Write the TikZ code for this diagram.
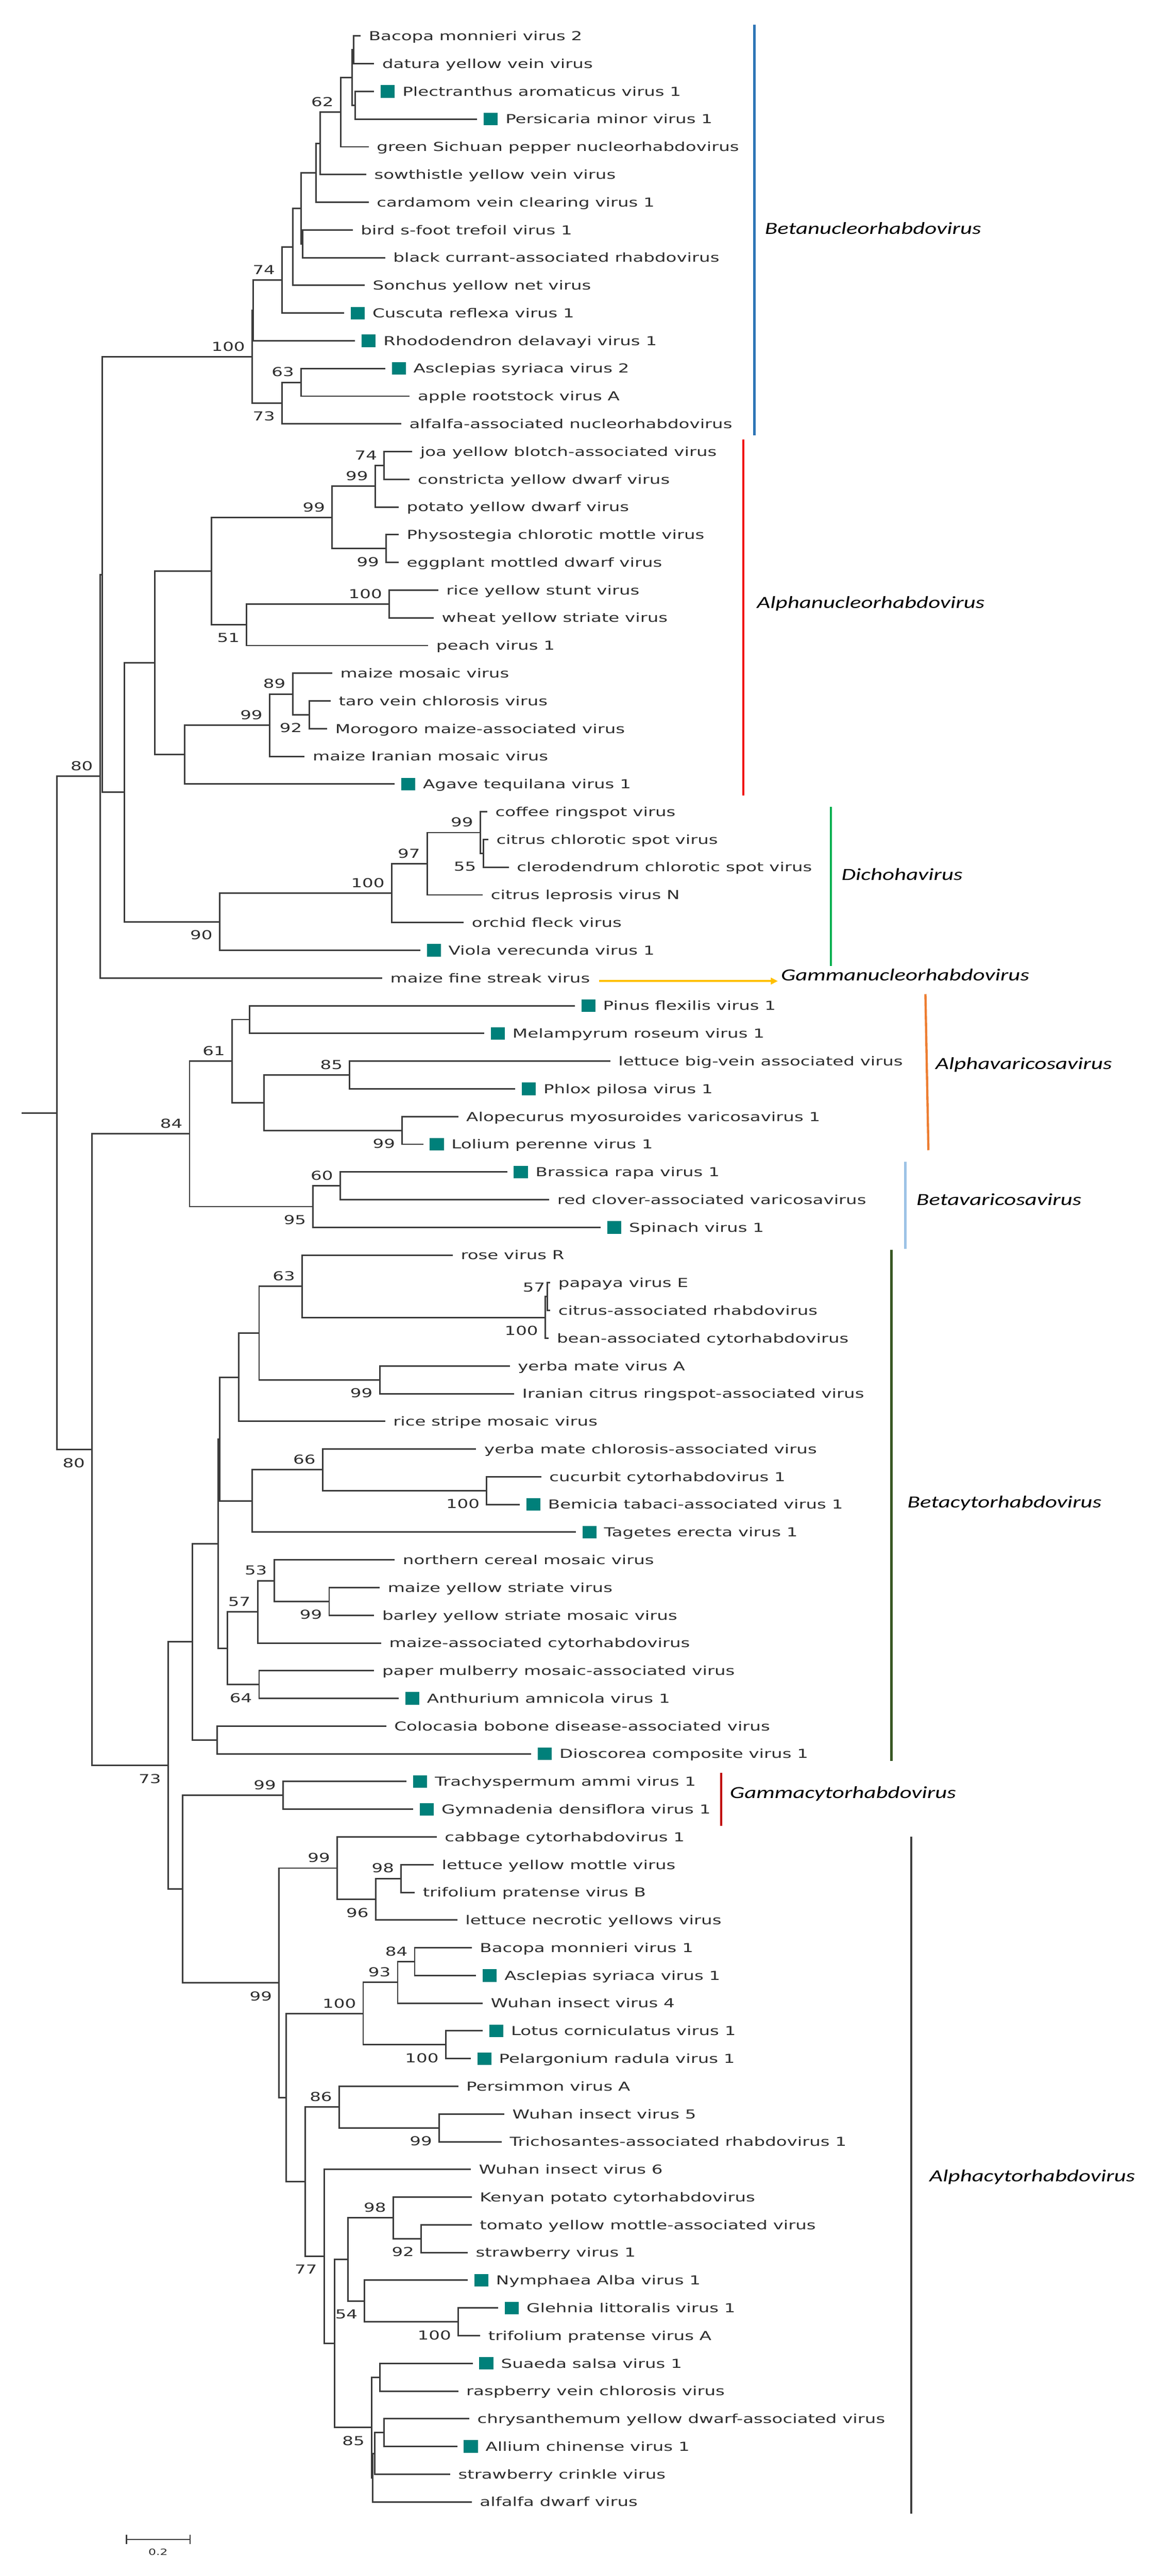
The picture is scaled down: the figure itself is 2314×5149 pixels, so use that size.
\documentclass[tikz,border=0pt]{standalone}
\usepackage{fontspec}
\usetikzlibrary{arrows.meta}
\newfontfamily\leaffam[FakeStretch=1.42]{DejaVu Sans}
\newfontfamily\genusfam[FakeStretch=1.36]{Carlito}
\definecolor{tealbox}{RGB}{0,128,122}
\definecolor{brc}{RGB}{60,60,60}
\definecolor{txt}{RGB}{45,45,45}
\definecolor{cbeta}{RGB}{46,117,182}
\definecolor{calpha}{RGB}{240,0,0}
\definecolor{cdicho}{RGB}{0,176,80}
\definecolor{cgold}{RGB}{255,192,0}
\definecolor{corange}{RGB}{237,125,49}
\definecolor{clblue}{RGB}{157,195,230}
\definecolor{cdgreen}{RGB}{56,87,35}
\definecolor{cdred}{RGB}{192,0,0}
\definecolor{cgray}{RGB}{64,64,64}
\tikzset{
  leaflab/.style={anchor=base west, inner sep=0pt, font=\leaffam\fontsize{24.7}{30}\selectfont, text=txt},
  bs/.style={inner sep=0pt, font=\leaffam\fontsize{24.7}{30}\selectfont, text=txt},
  gbox/.style={anchor=west, fill=tealbox, minimum width=28pt, minimum height=25pt, inner sep=0pt},
  br/.style={draw=brc, line width=3pt},
  genus/.style={anchor=west, inner sep=0pt, text height=0.72em, text depth=0.22em, font=\genusfam\itshape\fontsize{34}{40}\selectfont, text=black},
  gbar/.style={line width=4.5pt}
}
\newcommand\leafA[4]{%
  \coordinate (#1) at (#3,{16.62+55.38*#2});
  \node[leaflab] (t#1) at ([xshift=16pt,yshift=-9pt]#1) {#4};}
\newcommand\leafB[4]{%
  \coordinate (#1) at (#3,{16.62+55.38*#2});
  \node[gbox] (b#1) at ([xshift=13pt]#1) {};
  \node[leaflab] (t#1) at ([xshift=15pt,yshift=-9pt]b#1.east) {#4};}
\newcommand\inode[3]{\coordinate (#1) at (#2,{16.62+55.38*#3});}
\newcommand\edges[2]{\foreach \cc in {#2}{\draw[br] (#1) |- (\cc);}}
\newcommand\bsup[2]{\node[bs,anchor=south east] (bs#1) at ([xshift=-14pt,yshift=11pt]#1) {#2};}
\newcommand\bsdn[2]{\node[bs,anchor=north east] (bs#1) at ([xshift=-14pt,yshift=-17pt]#1) {#2};}
\begin{document}
\begin{tikzpicture}[x=1pt,y=-1pt]
\fill[white] (0,0) rectangle (2314,5149);
\useasboundingbox (0,0) rectangle (2314,5149);
% ---------------- leaves ----------------
\leafA{l1}{1}{721}{Bacopa monnieri virus 2}
\leafA{l2}{2}{748}{datura yellow vein virus}
\leafB{l3}{3}{748}{Plectranthus aromaticus virus 1}
\leafB{l4}{4}{954}{Persicaria minor virus 1}
\leafA{l5}{5}{737}{green Sichuan pepper nucleorhabdovirus}
\leafA{l6}{6}{732}{sowthistle yellow vein virus}
\leafA{l7}{7}{737}{cardamom vein clearing virus 1}
\leafA{l8}{8}{705}{bird s-foot trefoil virus 1}
\leafA{l9}{9}{770}{black currant-associated rhabdovirus}
\leafA{l10}{10}{729}{Sonchus yellow net virus}
\leafB{l11}{11}{688}{Cuscuta reflexa virus 1}
\leafB{l12}{12}{710}{Rhododendron delavayi virus 1}
\leafB{l13}{13}{770}{Asclepias syriaca virus 2}
\leafA{l14}{14}{819}{apple rootstock virus A}
\leafA{l15}{15}{802}{alfalfa-associated nucleorhabdovirus}
\leafA{l16}{16}{824}{joa yellow blotch-associated virus}
\leafA{l17}{17}{819}{constricta yellow dwarf virus}
\leafA{l18}{18}{797}{potato yellow dwarf virus}
\leafA{l19}{19}{797}{Physostegia chlorotic mottle virus}
\leafA{l20}{20}{797}{eggplant mottled dwarf virus}
\leafA{l21}{21}{876}{rice yellow stunt virus}
\leafA{l22}{22}{867}{wheat yellow striate virus}
\leafA{l23}{23}{856}{peach virus 1}
\leafA{l24}{24}{664}{maize mosaic virus}
\leafA{l25}{25}{661}{taro vein chlorosis virus}
\leafA{l26}{26}{654}{Morogoro maize-associated virus}
\leafA{l27}{27}{609}{maize Iranian mosaic virus}
\leafB{l28}{28}{789}{Agave tequilana virus 1}
\leafA{l29}{29}{974}{coffee ringspot virus}
\leafA{l30}{30}{976}{citrus chlorotic spot virus}
\leafA{l31}{31}{1017}{clerodendrum chlorotic spot virus}
\leafA{l32}{32}{965}{citrus leprosis virus N}
\leafA{l33}{33}{927}{orchid fleck virus}
\leafB{l34}{34}{840}{Viola verecunda virus 1}
\leafA{l35}{35}{764}{maize fine streak virus}
\leafB{l36}{36}{1149}{Pinus flexilis virus 1}
\leafB{l37}{37}{968}{Melampyrum roseum virus 1}
\leafA{l38}{38}{1220}{lettuce big-vein associated virus}
\leafB{l39}{39}{1030}{Phlox pilosa virus 1}
\leafA{l40}{40}{916}{Alopecurus myosuroides varicosavirus 1}
\leafB{l41}{41}{846}{Lolium perenne virus 1}
\leafB{l42}{42}{1014}{Brassica rapa virus 1}
\leafA{l43}{43}{1098}{red clover-associated varicosavirus}
\leafB{l44}{44}{1201}{Spinach virus 1}
\leafA{l45}{45}{905}{rose virus R}
\leafA{l46}{46}{1100}{papaya virus E}
\leafA{l47}{47}{1100}{citrus-associated rhabdovirus}
\leafA{l48}{48}{1097}{bean-associated cytorhabdovirus}
\leafA{l49}{49}{1019}{yerba mate virus A}
\leafA{l50}{50}{1028}{Iranian citrus ringspot-associated virus}
\leafA{l51}{51}{770}{rice stripe mosaic virus}
\leafA{l52}{52}{952}{yerba mate chlorosis-associated virus}
\leafA{l53}{53}{1082}{cucurbit cytorhabdovirus 1}
\leafB{l54}{54}{1039}{Bemicia tabaci-associated virus 1}
\leafB{l55}{55}{1151}{Tagetes erecta virus 1}
\leafA{l56}{56}{789}{northern cereal mosaic virus}
\leafA{l57}{57}{759}{maize yellow striate virus}
\leafA{l58}{58}{748}{barley yellow striate mosaic virus}
\leafA{l59}{59}{762}{maize-associated cytorhabdovirus}
\leafA{l60}{60}{748}{paper mulberry mosaic-associated virus}
\leafB{l61}{61}{797}{Anthurium amnicola virus 1}
\leafA{l62}{62}{772}{Colocasia bobone disease-associated virus}
\leafB{l63}{63}{1062}{Dioscorea composite virus 1}
\leafB{l64}{64}{813}{Trachyspermum ammi virus 1}
\leafB{l65}{65}{826}{Gymnadenia densiflora virus 1}
\leafA{l66}{66}{873}{cabbage cytorhabdovirus 1}
\leafA{l67}{67}{867}{lettuce yellow mottle virus}
\leafA{l68}{68}{829}{trifolium pratense virus B}
\leafA{l69}{69}{914}{lettuce necrotic yellows virus}
\leafA{l70}{70}{943}{Bacopa monnieri virus 1}
\leafB{l71}{71}{952}{Asclepias syriaca virus 1}
\leafA{l72}{72}{965}{Wuhan insect virus 4}
\leafB{l73}{73}{965}{Lotus corniculatus virus 1}
\leafB{l74}{74}{941}{Pelargonium radula virus 1}
\leafA{l75}{75}{916}{Persimmon virus A}
\leafA{l76}{76}{1008}{Wuhan insect virus 5}
\leafA{l77}{77}{1003}{Trichosantes-associated rhabdovirus 1}
\leafA{l78}{78}{941}{Wuhan insect virus 6}
\leafA{l79}{79}{943}{Kenyan potato cytorhabdovirus}
\leafA{l80}{80}{943}{tomato yellow mottle-associated virus}
\leafA{l81}{81}{935}{strawberry virus 1}
\leafB{l82}{82}{935}{Nymphaea Alba virus 1}
\leafB{l83}{83}{996}{Glehnia littoralis virus 1}
\leafA{l84}{84}{960}{trifolium pratense virus A}
\leafB{l85}{85}{945}{Suaeda salsa virus 1}
\leafA{l86}{86}{916}{raspberry vein chlorosis virus}
\leafA{l87}{87}{938}{chrysanthemum yellow dwarf-associated virus}
\leafB{l88}{88}{914}{Allium chinense virus 1}
\leafA{l89}{89}{900}{strawberry crinkle virus}
\leafA{l90}{90}{943}{alfalfa dwarf virus}
% ---------------- internal nodes ----------------
\inode{na}{707}{1.5}
\inode{nb}{710}{3.5}
\inode{nc}{704}{2.5}
\inode{n62}{681}{3.75}
\inode{nd}{640}{4.875}
\inode{ne}{632}{5.9375}
\inode{nf}{605}{8.5}
\inode{ng}{602}{7.21875}
\inode{nh}{585}{8.609375}
\inode{n74}{564}{9.8046875}
\inode{nba}{506}{10.90234}
\inode{n63}{602}{13.5}
\inode{n73}{564}{14.25}
\inode{nbeta}{504}{12.5762}
\inode{n74b}{768}{16.5}
\inode{n99b}{750}{17.25}
\inode{n99c}{772}{19.5}
\inode{n99a}{664}{18.375}
\inode{n100c}{778}{21.5}
\inode{n51}{493}{22.25}
\inode{nu}{423}{20.3125}
\inode{n92}{618}{25.5}
\inode{n89}{585}{24.75}
\inode{n99d}{539}{25.875}
\inode{nm}{369}{26.9375}
\inode{nal}{309}{23.625}
\inode{n55}{966}{30.5}
\inode{n99e}{960}{29.75}
\inode{n97}{854}{30.875}
\inode{n100d}{783}{31.9375}
\inode{n90}{439}{32.96875}
\inode{nq}{249}{28.296875}
\inode{npa}{204}{20.4365}
\inode{npb}{200}{27.7182}
\inode{npm}{499}{36.5}
\inode{n85}{699}{38.5}
\inode{n99f}{804}{40.5}
\inode{nx}{528}{39.5}
\inode{n61}{464}{38}
\inode{n60}{680}{42.5}
\inode{n95}{626}{43.25}
\inode{n84}{379}{40.625}
\inode{n57}{1094}{46.5}
\inode{n100e}{1090}{47.25}
\inode{n63b}{604}{46.125}
\inode{n99g}{759}{49.5}
\inode{nb1}{518}{47.8125}
\inode{nb2}{477}{49.40625}
\inode{n100f}{973}{53.5}
\inode{n66}{645}{52.75}
\inode{nc2}{504}{53.875}
\inode{nb3}{439}{51.640625}
\inode{n99h}{658}{57.5}
\inode{n53}{548}{56.75}
\inode{n57b}{515}{57.875}
\inode{n64}{518}{60.5}
\inode{nd2}{455}{59.1875}
\inode{nbc1}{436}{55.4140625}
\inode{ncol}{434}{62.5}
\inode{nbc}{385}{58.95703}
\inode{n99i}{566}{64.5}
\inode{n98}{802}{67.5}
\inode{n96}{751}{68.25}
\inode{n99k}{674}{67.125}
\inode{n84b}{829}{70.5}
\inode{n93}{795}{71.25}
\inode{n100h}{891}{73.5}
\inode{n100g}{726}{72.375}
\inode{n99l}{878}{76.5}
\inode{n86}{678}{75.75}
\inode{n92b}{842}{80.5}
\inode{n98b}{786}{79.75}
\inode{n100i}{916}{83.5}
\inode{n54}{729}{82.75}
\inode{nu2}{696}{81.25}
\inode{nss}{759}{85.5}
\inode{ncy}{768}{87.5}
\inode{na1}{749}{88.25}
\inode{na2}{745}{89.125}
\inode{n85b}{743}{87.3125}
\inode{nt}{669}{84.28125}
\inode{n77}{648}{81.140625}
\inode{ns}{610}{78.4453}
\inode{nrest}{572}{75.4102}
\inode{n99j}{558}{71.2676}
\inode{ng2}{365}{67.8838}
\inode{n73b}{336}{63.4204}
\inode{n80b}{184}{52.0227}
\inode{nr}{114}{39.8705}
\inode{r0}{43}{39.8705}
% ---------------- branches ----------------
\edges{na}{l1,l2}
\edges{nb}{l3,l4}
\edges{nc}{na,nb}
\edges{n62}{nc,l5}
\edges{nd}{n62,l6}
\edges{ne}{nd,l7}
\edges{nf}{l8,l9}
\edges{ng}{ne,nf}
\edges{nh}{ng,l10}
\edges{n74}{nh,l11}
\edges{nba}{n74,l12}
\edges{n63}{l13,l14}
\edges{n73}{n63,l15}
\edges{nbeta}{nba,n73}
\edges{n74b}{l16,l17}
\edges{n99b}{n74b,l18}
\edges{n99c}{l19,l20}
\edges{n99a}{n99b,n99c}
\edges{n100c}{l21,l22}
\edges{n51}{n100c,l23}
\edges{nu}{n99a,n51}
\edges{n92}{l25,l26}
\edges{n89}{l24,n92}
\edges{n99d}{n89,l27}
\edges{nm}{n99d,l28}
\edges{nal}{nu,nm}
\edges{n55}{l30,l31}
\edges{n99e}{l29,n55}
\edges{n97}{n99e,l32}
\edges{n100d}{n97,l33}
\edges{n90}{n100d,l34}
\edges{nq}{nal,n90}
\edges{npa}{nbeta,nq}
\edges{npb}{npa,l35}
\edges{npm}{l36,l37}
\edges{n85}{l38,l39}
\edges{n99f}{l40,l41}
\edges{nx}{n85,n99f}
\edges{n61}{npm,nx}
\edges{n60}{l42,l43}
\edges{n95}{n60,l44}
\edges{n84}{n61,n95}
\edges{n57}{l46,l47}
\edges{n100e}{n57,l48}
\edges{n63b}{l45,n100e}
\edges{n99g}{l49,l50}
\edges{nb1}{n63b,n99g}
\edges{nb2}{nb1,l51}
\edges{n100f}{l53,l54}
\edges{n66}{l52,n100f}
\edges{nc2}{n66,l55}
\edges{nb3}{nb2,nc2}
\edges{n99h}{l57,l58}
\edges{n53}{l56,n99h}
\edges{n57b}{n53,l59}
\edges{n64}{l60,l61}
\edges{nd2}{n57b,n64}
\edges{nbc1}{nb3,nd2}
\edges{ncol}{l62,l63}
\edges{nbc}{nbc1,ncol}
\edges{n99i}{l64,l65}
\edges{n98}{l67,l68}
\edges{n96}{n98,l69}
\edges{n99k}{l66,n96}
\edges{n84b}{l70,l71}
\edges{n93}{n84b,l72}
\edges{n100h}{l73,l74}
\edges{n100g}{n93,n100h}
\edges{n99l}{l76,l77}
\edges{n86}{l75,n99l}
\edges{n92b}{l80,l81}
\edges{n98b}{l79,n92b}
\edges{n100i}{l83,l84}
\edges{n54}{l82,n100i}
\edges{nu2}{n98b,n54}
\edges{nss}{l85,l86}
\edges{ncy}{l87,l88}
\edges{na1}{ncy,l89}
\edges{na2}{na1,l90}
\edges{n85b}{nss,na2}
\edges{nt}{nu2,n85b}
\edges{n77}{l78,nt}
\edges{ns}{n86,n77}
\edges{nrest}{n100g,ns}
\edges{n99j}{n99k,nrest}
\edges{ng2}{n99i,n99j}
\edges{n73b}{nbc,ng2}
\edges{n80b}{n84,n73b}
\edges{nr}{npb,n80b}
\draw[br] (r0) -- (nr);
% ---------------- bootstrap values ----------------
\bsup{n62}{62} \bsup{n74}{74} \bsup{nbeta}{100} \bsup{n63}{63} \bsup{n74b}{74}
\bsup{n99b}{99} \bsup{n99a}{99} \bsup{n100c}{100} \bsup{n89}{89} \bsup{n99d}{99}
\bsup{npb}{80} \bsup{n99e}{99} \bsup{n97}{97} \bsup{n100d}{100} \bsup{n61}{61}
\bsup{n85}{85} \bsup{n84}{84} \bsup{n60}{60} \bsup{n63b}{63} \bsup{n66}{66}
\bsup{n53}{53} \bsup{n57b}{57} \bsup{n99i}{99} \bsup{n99k}{99} \bsup{n98}{98}
\bsup{n84b}{84} \bsup{n93}{93} \bsup{n100g}{100} \bsup{n86}{86} \bsup{n98b}{98}
\bsdn{n73}{73} \bsdn{n99c}{99} \bsdn{n51}{51} \bsdn{n92}{92} \bsdn{n55}{55}
\bsdn{n90}{90} \bsdn{n99f}{99} \bsdn{n95}{95} \bsdn{n100e}{100} \bsdn{n99g}{99}
\bsdn{n100f}{100} \bsdn{n99h}{99} \bsdn{n64}{64} \bsdn{n73b}{73} \bsdn{n96}{96}
\bsdn{n99j}{99} \bsdn{n100h}{100} \bsdn{n99l}{99} \bsdn{n92b}{92} \bsdn{n77}{77}
\bsdn{n54}{54} \bsdn{n100i}{100} \bsdn{n85b}{85} \bsdn{n80b}{80}
\node[bs,anchor=south east] (bsn57) at ([xshift=-4pt,yshift=9pt]n57) {57};
% ---------------- genus bars and labels ----------------
\coordinate (g1a) at (1508,49);   \coordinate (g1b) at (1508,870);
\draw[gbar,cbeta] (g1a) -- (g1b);
\node[genus] (g1) at (1529,466) {Betanucleorhabdovirus};
\coordinate (g2a) at (1486,878);  \coordinate (g2b) at (1486,1590);
\draw[gbar,calpha] (g2a) -- (g2b);
\node[genus] (g2) at (1513,1213) {Alphanucleorhabdovirus};
\coordinate (g3a) at (1661,1613); \coordinate (g3b) at (1661,1931);
\draw[gbar,cdicho] (g3a) -- (g3b);
\node[genus] (g3) at (1682,1757) {Dichohavirus};
\node[genus] (g4) at (1561,1958) {Gammanucleorhabdovirus};
\coordinate (ya) at (1198,1961); \coordinate (yb) at (1555,1961);
\draw[cgold,line width=4pt,-{Triangle[length=14pt,width=13pt]}] (ya) -- (yb);
\coordinate (g5a) at (1850,1987); \coordinate (g5b) at (1856,2299);
\draw[gbar,corange] (g5a) -- (g5b);
\node[genus] (g5) at (1870,2135) {Alphavaricosavirus};
\coordinate (g6a) at (1810,2322); \coordinate (g6b) at (1810,2496);
\draw[gbar,clblue] (g6a) -- (g6b);
\node[genus] (g6) at (1832,2407) {Betavaricosavirus};
\coordinate (g7a) at (1782,2498); \coordinate (g7b) at (1782,3520);
\draw[gbar,cdgreen] (g7a) -- (g7b);
\node[genus] (g7) at (1814,3011) {Betacytorhabdovirus};
\coordinate (g8a) at (1442,3543); \coordinate (g8b) at (1442,3650);
\draw[gbar,cdred] (g8a) -- (g8b);
\node[genus] (g8) at (1459,3592) {Gammacytorhabdovirus};
\coordinate (g9a) at (1822,3671); \coordinate (g9b) at (1822,5024);
\draw[gbar,cgray] (g9a) -- (g9b);
\node[genus] (g9) at (1858,4358) {Alphacytorhabdovirus};
% ---------------- scale bar ----------------
\coordinate (sb1) at (253,5076); \coordinate (sb2) at (380,5076);
\draw[br,line width=2.5pt] (sb1) -- (sb2);
\draw[br,line width=2.5pt] ([yshift=9pt]sb1) -- ([yshift=-9pt]sb1);
\draw[br,line width=2.5pt] ([yshift=9pt]sb2) -- ([yshift=-9pt]sb2);
\node[bs,font=\leaffam\fontsize{17}{20}\selectfont] (sbl) at (316,5101) {0.2};
\end{tikzpicture}
\end{document}
